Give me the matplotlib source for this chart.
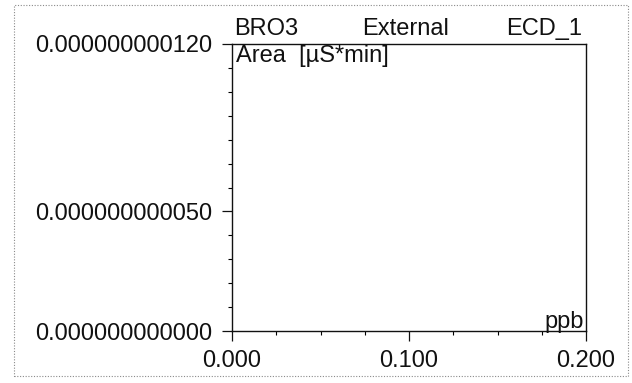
import matplotlib.pyplot as plt
from matplotlib.ticker import FixedLocator, MultipleLocator, FormatStrFormatter
from matplotlib.patches import Rectangle

plt.rcParams['font.family'] = ['Liberation Sans', 'DejaVu Sans']

# calibration points (none recorded for this peak)
amount_ppb = []
area_uS_min = []

x_major = [0.0, 0.1, 0.2]
y_major = [0.0, 0.000000000050, 0.000000000120]
x_limits = (0.0, 0.2)
y_limits = (0.0, 0.000000000120)

peak_name = "BRO3"
cal_type = "External"
detector = "ECD_1"
y_unit = "Area  [µS*min]"
x_unit = "ppb"

fs = 17

fig = plt.figure(figsize=(6.32, 3.83), dpi=100)
fig.patch.set_facecolor("white")

# dotted frame round the whole report panel
fig.patches.append(Rectangle((14 / 632, 7 / 383), 614 / 632, 371 / 383,
                             transform=fig.transFigure, fill=False,
                             edgecolor="#8a8a8a", linewidth=0.8,
                             linestyle=(0, (1, 1.5))))

ax = fig.add_axes([232 / 632, 52 / 383, 354 / 632, 287 / 383])
ax.plot(amount_ppb, area_uS_min, "o-", color="black")

ax.set_xlim(*x_limits)
ax.set_ylim(*y_limits)

ax.xaxis.set_major_locator(FixedLocator(x_major))
ax.yaxis.set_major_locator(FixedLocator(y_major))
ax.xaxis.set_minor_locator(MultipleLocator(0.025))
ax.yaxis.set_minor_locator(MultipleLocator(0.00000000001))
ax.xaxis.set_major_formatter(FormatStrFormatter("%.3f"))
ax.yaxis.set_major_formatter(FormatStrFormatter("%.12f"))

ax.tick_params(which="major", length=7, width=0.9, labelsize=fs, pad=7, colors="#111111")
ax.tick_params(which="minor", length=3, width=0.8)

for s in ax.spines.values():
    s.set_linewidth(1.0)
    s.set_color("#111111")

# header line above the plot
ax.text(0.005, 1.015, peak_name, transform=ax.transAxes, fontsize=fs,
        ha="left", va="bottom", color="#111111")
ax.text(0.49, 1.015, cal_type, transform=ax.transAxes, fontsize=fs,
        ha="center", va="bottom", color="#111111")
ax.text(0.99, 1.015, detector, transform=ax.transAxes, fontsize=fs,
        ha="right", va="bottom", color="#111111")

# axis units written inside the plot corners
ax.text(0.01, 0.995, y_unit, transform=ax.transAxes, fontsize=fs,
        ha="left", va="top", color="#111111")
ax.text(0.995, 0.01, x_unit, transform=ax.transAxes, fontsize=fs,
        ha="right", va="baseline", color="#111111")

fig.savefig("out.png", dpi=100)
